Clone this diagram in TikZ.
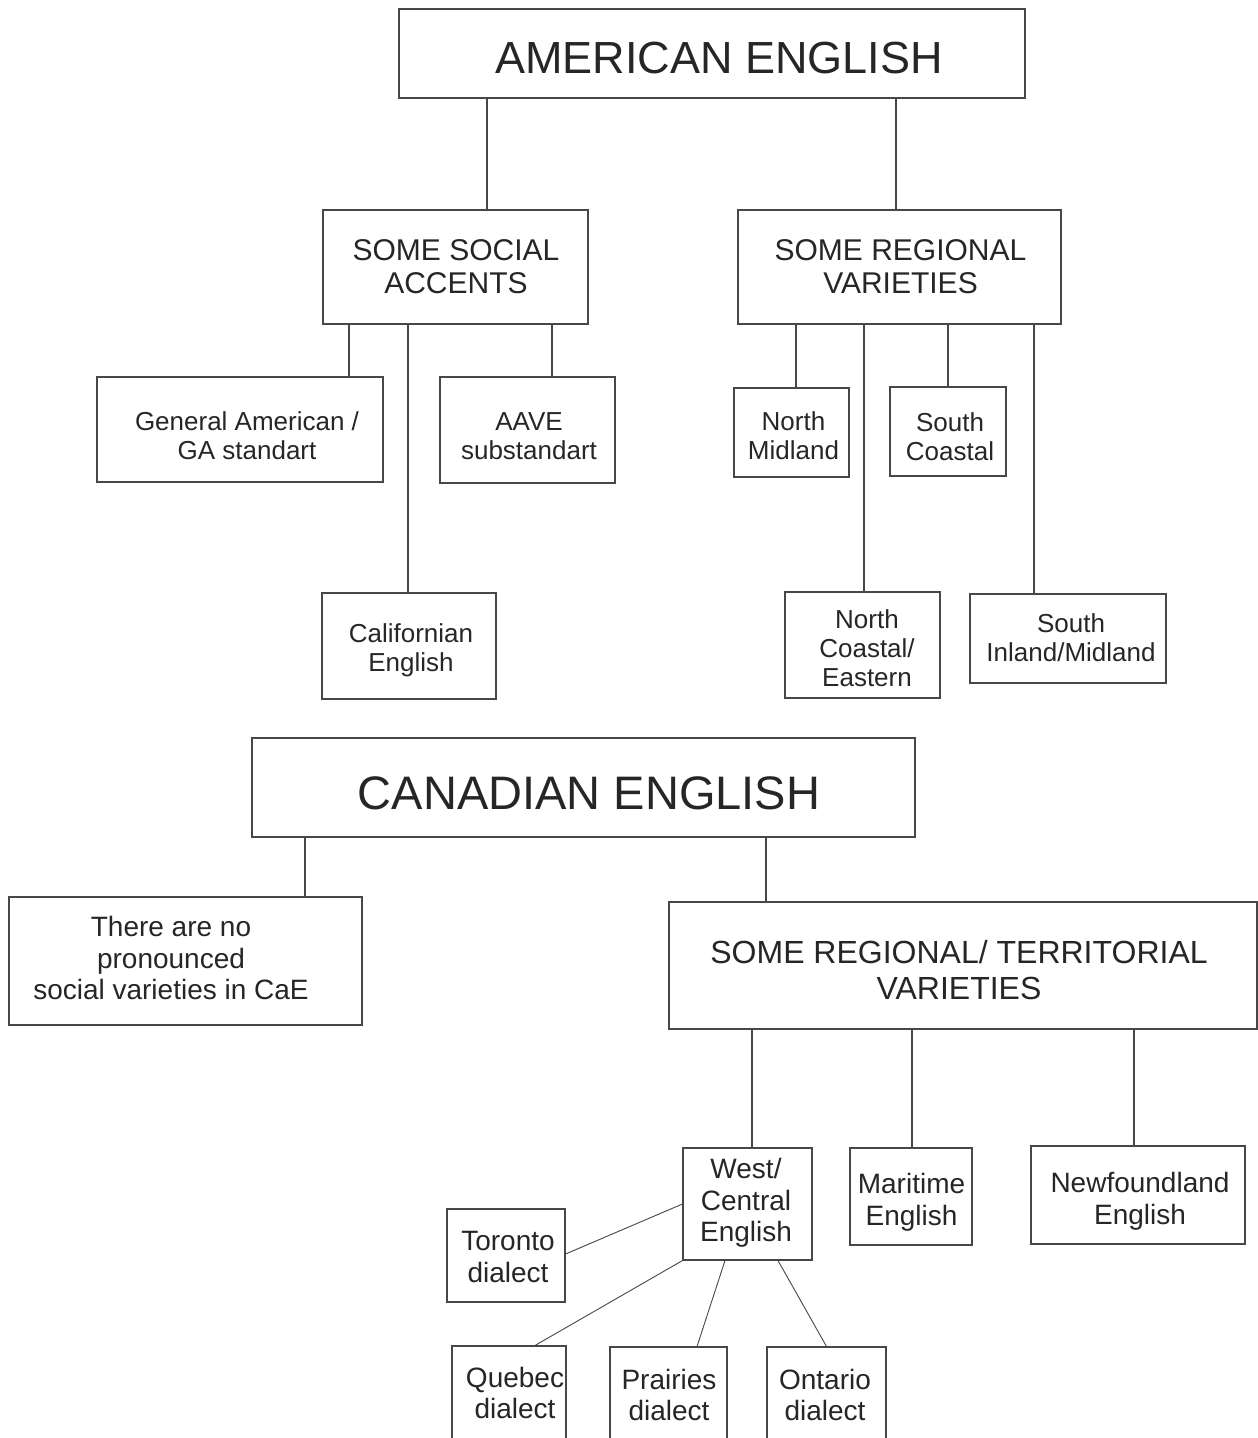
\documentclass[tikz,border=0pt]{standalone}
\usepackage{fontspec}
\setmainfont{Liberation Sans}
\newcommand\myfs[2]{\fontsize{#1}{#2}\selectfont}
\begin{document}
\begin{tikzpicture}[x=1pt,y=-1pt,
  box/.style={draw=black!72, line width=1.1pt, inner sep=0pt},
  txt/.style={inner sep=0pt, align=center, text=black!85},
  link/.style={draw=black!72, line width=1.1pt},
  thin link/.style={draw=black!72, line width=0.9pt},
  huge/.style={font=\myfs{45}{50}},
  hdr/.style={font=\myfs{30}{33}},
  hdrb/.style={font=\myfs{32}{36}},
  sm/.style={font=\myfs{26}{29}},
  md/.style={font=\myfs{28}{31.5}}]
\useasboundingbox (0,0) rectangle (1258,1438);
\fill[white] (0,0) rectangle (1258,1438);
\clip (0,0) rectangle (1258,1438);

% ---------- American English: boxes ----------
\node[box, minimum width=626pt, minimum height=89pt] (ame) at (712,53.5) {};
\node[box, minimum width=265pt, minimum height=114pt] (soc) at (455.5,267) {};
\node[box, minimum width=323pt, minimum height=114pt] (reg) at (899.5,267) {};
\node[box, minimum width=286pt, minimum height=105pt] (ga) at (240,429.5) {};
\node[box, minimum width=175pt, minimum height=106pt] (aave) at (527.5,430) {};
\node[box, minimum width=174pt, minimum height=106pt] (cal) at (409,646) {};
\node[box, minimum width=115pt, minimum height=89pt] (nmid) at (791.5,432.5) {};
\node[box, minimum width=116pt, minimum height=89pt] (scoast) at (948,431.5) {};
\node[box, minimum width=155pt, minimum height=106pt] (ncoast) at (862.5,645) {};
\node[box, minimum width=196pt, minimum height=89pt] (sinland) at (1068,638.5) {};

% ---------- American English: texts ----------
\node[txt, huge] (ame-t) at (719,58) {AMERICAN ENGLISH};
\node[txt, hdr] (soc-t) at (456,267) {SOME SOCIAL\\ACCENTS};
\node[txt, hdr] (reg-t) at (900.5,266.5) {SOME REGIONAL\\VARIETIES};
\node[txt, sm] (ga-t) at (247,436) {General American /\\GA standart};
\node[txt, sm] (aave-t) at (529,436) {AAVE\\substandart};
\node[txt, sm] (cal-t) at (411,650) {Californian\\English};
\node[txt, sm] (nmid-t) at (793.5,435.5) {North\\Midland};
\node[txt, sm] (scoast-t) at (950,436.5) {South\\Coastal};
\node[txt, sm] (ncoast-t) at (867,648.5) {North\\Coastal/\\Eastern};
\node[txt, sm] (sinland-t) at (1071,638) {South\\Inland/Midland};

% ---------- American English: connectors ----------
\draw[link] ([xshift=-225pt]ame.south) -- ([xshift=31.5pt]soc.north);
\draw[link] ([xshift=184pt]ame.south) -- ([xshift=-3.5pt]reg.north);
\draw[link] ([xshift=-106.5pt]soc.south) -- ([xshift=109pt]ga.north);
\draw[link] ([xshift=-47.5pt]soc.south) -- ([xshift=-1pt]cal.north);
\draw[link] ([xshift=96.5pt]soc.south) -- ([xshift=24.5pt]aave.north);
\draw[link] ([xshift=-103.5pt]reg.south) -- ([xshift=4.5pt]nmid.north);
\draw[link] ([xshift=-35.5pt]reg.south) -- ([xshift=1.5pt]ncoast.north);
\draw[link] ([xshift=48.5pt]reg.south) -- (scoast.north);
\draw[link] ([xshift=134.5pt]reg.south) -- ([xshift=-34pt]sinland.north);

% ---------- Canadian English: boxes ----------
\node[box, minimum width=663pt, minimum height=99pt] (cane) at (583.5,787.5) {};
\node[box, minimum width=353pt, minimum height=128pt] (nosoc) at (185.5,961) {};
\node[box, minimum width=588pt, minimum height=127pt] (rterr) at (963,965.5) {};
\node[box, minimum width=129pt, minimum height=112pt] (west) at (747.5,1204) {};
\node[box, minimum width=122pt, minimum height=97pt] (mar) at (911,1196.5) {};
\node[box, minimum width=214pt, minimum height=98pt] (newf) at (1138,1195) {};
\node[box, minimum width=118pt, minimum height=93pt] (tor) at (506,1255.5) {};
\node[box, minimum width=114pt, minimum height=98pt] (que) at (509,1395) {};
\node[box, minimum width=117pt, minimum height=97pt] (pra) at (668.5,1395.5) {};
\node[box, minimum width=119pt, minimum height=97pt] (ont) at (826.5,1395.5) {};

% ---------- Canadian English: texts ----------
\node[txt, font=\myfs{47}{52}] (cane-t) at (589,793) {CANADIAN ENGLISH};
\node[txt, md] (nosoc-t) at (171,958) {There are no\\pronounced\\social varieties in CaE};
\node[txt, hdrb] (rterr-t) at (959,970) {SOME REGIONAL/ TERRITORIAL\\VARIETIES};
\node[txt, md] (west-t) at (746,1203) {West/\\Central\\English};
\node[txt, md] (mar-t) at (911.5,1202) {Maritime\\English};
\node[txt, md] (newf-t) at (1140,1201) {Newfoundland\\English};
\node[txt, md] (tor-t) at (508,1257) {Toronto\\dialect};
\node[txt, md] (que-t) at (515,1393) {Quebec\\dialect};
\node[txt, md] (pra-t) at (669,1395) {Prairies\\dialect};
\node[txt, md] (ont-t) at (825,1395) {Ontario\\dialect};

% ---------- Canadian English: connectors ----------
\draw[link] ([xshift=-278.5pt]cane.south) -- ([xshift=119.5pt]nosoc.north);
\draw[link] ([xshift=182.5pt]cane.south) -- ([xshift=-197pt]rterr.north);
\draw[link] ([xshift=-211pt]rterr.south) -- ([xshift=4.5pt]west.north);
\draw[link] ([xshift=-51pt]rterr.south) -- ([xshift=1pt]mar.north);
\draw[link] ([xshift=171pt]rterr.south) -- ([xshift=-4pt]newf.north);
\draw[thin link] (west.west) -- ([yshift=1.5pt]tor.east);
\draw[thin link] (west.south west) -- ([xshift=26pt]que.north);
\draw[thin link] ([xshift=-22.5pt]west.south) -- ([xshift=28.5pt]pra.north);
\draw[thin link] ([xshift=30.5pt]west.south) -- (ont.north);
\end{tikzpicture}
\end{document}
